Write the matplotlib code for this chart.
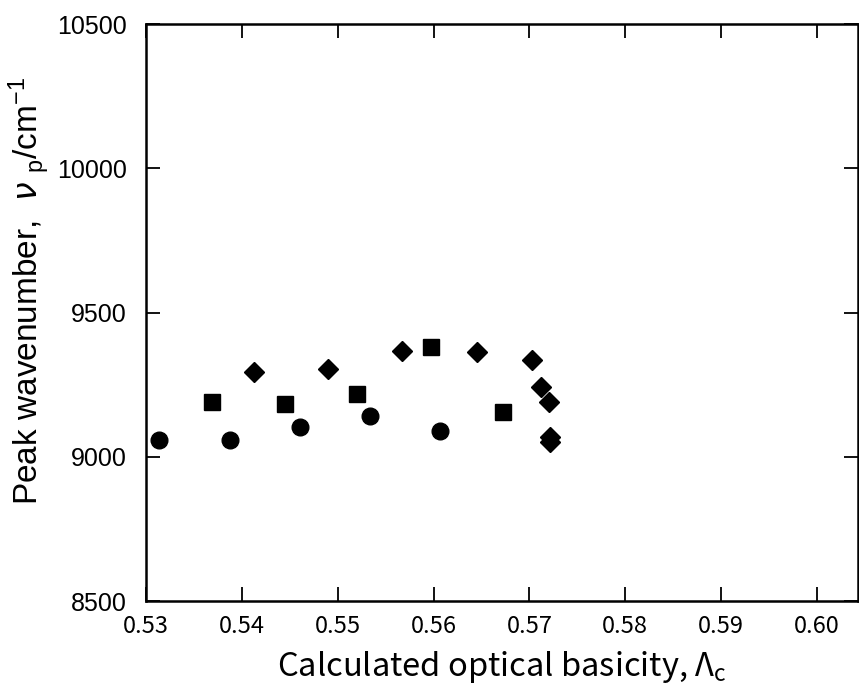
import matplotlib.pyplot as plt

circle_x = [0.5314, 0.5388, 0.5461, 0.5534, 0.5607]
circle_y = [9059, 9059, 9105, 9142, 9091]

square_x = [0.5369, 0.5445, 0.5520, 0.5597, 0.5672]
square_y = [9189, 9183, 9218, 9380, 9157]

diamond_x = [0.5413, 0.5490, 0.5567, 0.5645, 0.5703, 0.5712, 0.5720, 0.5721, 0.5722]
diamond_y = [9296, 9305, 9366, 9365, 9337, 9244, 9192, 9068, 9050]

xticks = [0.53, 0.54, 0.55, 0.56, 0.57, 0.58, 0.59, 0.60]
yticks = [8500, 9000, 9500, 10000, 10500]

plt.rcParams['mathtext.default'] = 'regular'

fig = plt.figure(figsize=(8.59, 6.91), dpi=100)
ax = fig.add_axes([0.170, 0.130, 0.829, 0.835])

ax.plot(circle_x, circle_y, 'o', color='black', markersize=12, linestyle='none')
ax.plot(square_x, square_y, 's', color='black', markersize=12, linestyle='none')
ax.plot(diamond_x, diamond_y, 'D', color='black', markersize=10, linestyle='none')

ax.set_xlim(0.53, 0.6043)
ax.set_ylim(8500, 10500)
ax.set_xticks(xticks)
ax.set_xticklabels([f"{v:.2f}" for v in xticks], family=['Noto Sans CJK JP', 'DejaVu Sans'], fontsize=17)
ax.set_yticks(yticks)
ax.set_yticklabels([str(v) for v in yticks], family=['Liberation Sans', 'DejaVu Sans'], fontsize=18)

ax.tick_params(direction='in', length=10, width=1.3, top=True, right=True)
ax.tick_params(axis='x', pad=10)
ax.tick_params(axis='y', pad=14)
for s in ax.spines.values():
    s.set_linewidth(1.8)

ax.set_xlabel("Calculated optical basicity, Λ$_{c}$", family=['Noto Sans CJK JP', 'DejaVu Sans'],
              fontsize=23.5, labelpad=8)
ax.set_ylabel(r"Peak wavenumber,  $\mathit{\nu}$ $_{p}$/cm$^{-1}$", family=['Liberation Sans', 'DejaVu Sans'],
              fontsize=24)
ax.yaxis.set_label_coords(-0.132, 0.537)

fig.savefig('out.png', dpi=100)
